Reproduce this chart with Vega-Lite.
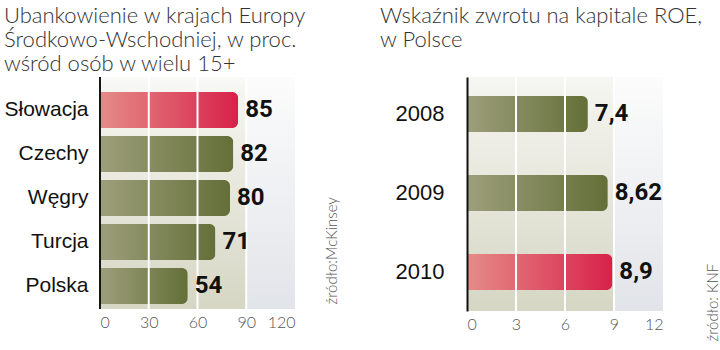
{
  "$schema": "https://vega.github.io/schema/vega-lite/v6.json",
  "padding": {"left": 3, "top": 5, "right": 0, "bottom": 0},
  "background": "white",
  "config": {
    "view": {"stroke": null},
    "locale": {"number": {"decimal": ",", "thousands": "\u00a0", "grouping": [3], "currency": ["", " zł"]}},
    "title": {"font": "Lato, Roboto, sans-serif", "fontWeight": 300, "fontSize": 22, "color": "#333", "anchor": "start", "lineHeight": 24}
  },
  "spacing": 41,
  "hconcat": [
    {
      "width": 195,
      "height": 232,
      "title": {"text": ["Ubankowienie w krajach Europy", "Środkowo-Wschodniej,  w proc.", "wśród osób w wielu 15+"], "offset": 0},
      "data": {"values": [
        {"kraj": "Słowacja", "wartosc": 85},
        {"kraj": "Czechy", "wartosc": 82},
        {"kraj": "Węgry", "wartosc": 80},
        {"kraj": "Turcja", "wartosc": 71},
        {"kraj": "Polska", "wartosc": 54}
      ]},
      "encoding": {
        "x": {"field": "wartosc", "type": "quantitative", "scale": {"domain": [0, 120], "nice": false},
          "axis": {"values": [0, 30, 60, 90, 120], "grid": false, "domain": false, "ticks": false, "labelFont": "Lato, Roboto, sans-serif", "labelFontWeight": 300, "labelFontSize": 16, "labelColor": "#555", "labelPadding": 5, "title": null}}
      },
      "resolve": {"axis": {"y": "independent"}},
      "layer": [
        {
          "data": {"values": [{"wartosc": 0, "koniec": 90}]},
          "mark": {"type": "rect", "color": {"gradient": "linear", "x1": 0, "y1": 0, "x2": 0, "y2": 1, "stops": [{"offset": 0, "color": "#fafaf8"}, {"offset": 0.05, "color": "#f6f6f2"}, {"offset": 1, "color": "#d6d6c4"}]}},
          "encoding": {"x2": {"field": "koniec"}}
        },
        {
          "data": {"values": [{"wartosc": 90, "koniec": 120}]},
          "mark": {"type": "rect", "color": {"gradient": "linear", "x1": 0, "y1": 0, "x2": 0, "y2": 1, "stops": [{"offset": 0, "color": "#fcfcfc"}, {"offset": 1, "color": "#e1e4e9"}]}},
          "encoding": {"x2": {"field": "koniec"}}
        },
        {
          "transform": [{"filter": "datum.kraj != 'Słowacja'"}],
          "mark": {"type": "bar", "cornerRadiusEnd": 6, "color": {"gradient": "linear", "x1": 0, "y1": 0, "x2": 1, "y2": 0, "stops": [{"offset": 0, "color": "#9d9f7c"}, {"offset": 1, "color": "#646f38"}]}},
          "encoding": {
            "y": {"field": "kraj", "type": "nominal", "scale": {"domain": ["Słowacja", "Czechy", "Węgry", "Turcja", "Polska"], "paddingInner": 0.18, "paddingOuter": 0.227, "align": 0.75},
              "axis": {"title": null, "ticks": false, "domain": false, "labelFont": "Liberation Sans", "labelFontSize": 21, "labelColor": "#111", "labelPadding": 12}}
          }
        },
        {
          "transform": [{"filter": "datum.kraj == 'Słowacja'"}],
          "mark": {"type": "bar", "cornerRadiusEnd": 6, "color": {"gradient": "linear", "x1": 0, "y1": 0, "x2": 1, "y2": 0, "stops": [{"offset": 0, "color": "#e58c88"}, {"offset": 1, "color": "#d8214a"}]}},
          "encoding": {
            "y": {"field": "kraj", "type": "nominal", "axis": null}
          }
        },
        {
          "data": {"values": [{"wartosc": 30}, {"wartosc": 60}, {"wartosc": 90}]},
          "mark": {"type": "rule", "color": "white", "strokeWidth": 2},
          "encoding": {}
        },
        {
          "data": {"values": [{"wartosc": -0.6, "koniec": 0.6}]},
          "mark": {"type": "rect", "color": "#111"},
          "encoding": {"x2": {"field": "koniec"}}
        },
        {
          "mark": {"type": "text", "align": "left", "dx": 7, "font": "Roboto, sans-serif", "fontWeight": "bold", "fontSize": 24, "color": "#111"},
          "encoding": {
            "y": {"field": "kraj", "type": "nominal",
              "axis": {"orient": "right", "labels": false, "ticks": false, "domain": false, "grid": false, "title": "źródło:McKinsey", "titleAngle": 270, "titleAlign": "left", "titleBaseline": "middle", "titleX": 36, "titleY": 227, "titleFont": "Lato, Roboto, sans-serif", "titleFontWeight": 300, "titleFontSize": 15, "titleColor": "#555"}},
            "text": {"field": "wartosc", "type": "quantitative", "format": "~g"}
          }
        }
      ]
    },
    {
      "width": 196,
      "height": 234,
      "title": {"text": ["Wskaźnik zwrotu na kapitale ROE,", "w Polsce"], "offset": 24, "dx": -15},
      "data": {"values": [
        {"rok": "2008", "roe": 7.4},
        {"rok": "2009", "roe": 8.62},
        {"rok": "2010", "roe": 8.9}
      ]},
      "encoding": {
        "x": {"field": "roe", "type": "quantitative", "scale": {"domain": [0, 12], "nice": false},
          "axis": {"values": [0, 3, 6, 9, 12], "grid": false, "domain": false, "ticks": false, "labelFont": "Lato, Roboto, sans-serif", "labelFontWeight": 300, "labelFontSize": 16, "labelColor": "#555", "labelPadding": 5, "title": null}}
      },
      "resolve": {"axis": {"y": "independent"}},
      "layer": [
        {
          "data": {"values": [{"roe": 0, "koniec": 9}]},
          "mark": {"type": "rect", "color": {"gradient": "linear", "x1": 0, "y1": 0, "x2": 0, "y2": 1, "stops": [{"offset": 0, "color": "#f6f6f2"}, {"offset": 1, "color": "#d6d6c4"}]}},
          "encoding": {"x2": {"field": "koniec"}}
        },
        {
          "data": {"values": [{"roe": 9, "koniec": 12}]},
          "mark": {"type": "rect", "color": {"gradient": "linear", "x1": 0, "y1": 0, "x2": 0, "y2": 1, "stops": [{"offset": 0, "color": "#fcfcfc"}, {"offset": 1, "color": "#e1e4e9"}]}},
          "encoding": {"x2": {"field": "koniec"}}
        },
        {
          "transform": [{"filter": "datum.rok != '2010'"}],
          "mark": {"type": "bar", "cornerRadiusEnd": 6, "color": {"gradient": "linear", "x1": 0, "y1": 0, "x2": 1, "y2": 0, "stops": [{"offset": 0, "color": "#9d9f7c"}, {"offset": 1, "color": "#646f38"}]}},
          "encoding": {
            "y": {"field": "rok", "type": "nominal", "scale": {"domain": ["2008", "2009", "2010"], "paddingInner": 0.544, "paddingOuter": 0.253, "align": 0.475},
              "axis": {"title": null, "ticks": false, "domainColor": "#111", "domainWidth": 2, "labelFont": "Liberation Sans", "labelFontSize": 22, "labelColor": "#111", "labelPadding": 23, "zindex": 1}}
          }
        },
        {
          "transform": [{"filter": "datum.rok == '2010'"}],
          "mark": {"type": "bar", "cornerRadiusEnd": 6, "color": {"gradient": "linear", "x1": 0, "y1": 0, "x2": 1, "y2": 0, "stops": [{"offset": 0, "color": "#e58c88"}, {"offset": 1, "color": "#d8214a"}]}},
          "encoding": {
            "y": {"field": "rok", "type": "nominal", "axis": null}
          }
        },
        {
          "data": {"values": [{"roe": 3}, {"roe": 6}, {"roe": 9}]},
          "mark": {"type": "rule", "color": "white", "strokeWidth": 2},
          "encoding": {}
        },
        {
          "mark": {"type": "text", "align": "left", "dx": 7, "font": "Roboto, sans-serif", "fontWeight": "bold", "fontSize": 24, "color": "#111"},
          "encoding": {
            "y": {"field": "rok", "type": "nominal",
              "axis": {"orient": "right", "labels": false, "ticks": false, "domain": false, "grid": false, "title": "źródło: KNF", "titleAngle": 270, "titleAlign": "left", "titleBaseline": "middle", "titleX": 49, "titleY": 264, "titleFont": "Lato, Roboto, sans-serif", "titleFontWeight": 300, "titleFontSize": 15, "titleColor": "#555"}},
            "text": {"field": "roe", "type": "quantitative", "format": "~g"}
          }
        }
      ]
    }
  ]
}
